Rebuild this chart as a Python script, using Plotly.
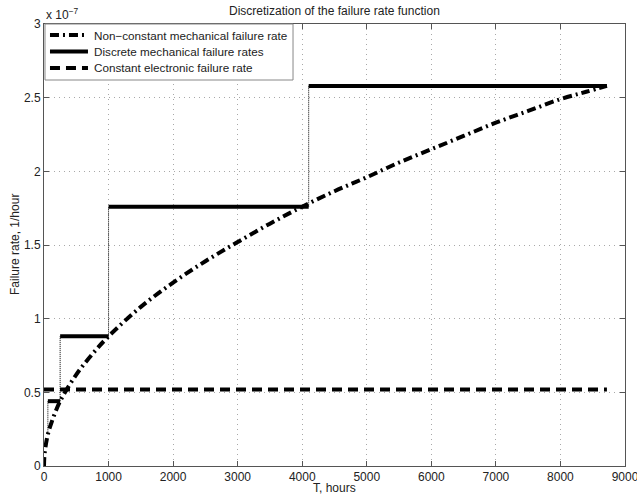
import plotly.graph_objects as go

SCALE = 1e-7

# Non-constant (time dependent) mechanical failure rate, in units of 1e-7 per hour
curve_t = [0, 5, 20, 60, 120, 250, 500, 750, 1000, 1500, 2000, 2500, 3000, 3500,
           4000, 4500, 5000, 5500, 6000, 6500, 7000, 7500, 8000, 8400, 8720]
curve_rate = [0.0, 0.06, 0.12, 0.215, 0.30, 0.44, 0.62, 0.76, 0.88, 1.08, 1.245,
              1.39, 1.52, 1.645, 1.76, 1.865, 1.96, 2.06, 2.15, 2.24, 2.33,
              2.41, 2.49, 2.54, 2.58]

# Discrete mechanical failure rates over each interval
step_start = [60, 250, 1000, 4100]
step_end = [250, 1000, 4100, 8720]
step_rate = [0.44, 0.88, 1.76, 2.58]
step_join_low = [0.215, 0.44, 0.88, 1.76]

# Constant electronic failure rate
const_rate = 0.52
t_max = 8720

x_ticks = list(range(0, 9001, 1000))
y_ticks = [0, 0.5, 1, 1.5, 2, 2.5, 3]

legend_labels = ["Non\u2212constant mechanical failure rate",
                 "Discrete mechanical failure rates",
                 "Constant electronic failure rate"]

DASHDOT = "9px,4px,2px,4px"
DASHED = "10px,6px"

fig = go.Figure()

fig.add_trace(go.Scatter(
    x=curve_t, y=[v * SCALE for v in curve_rate], mode="lines",
    name=legend_labels[0],
    line=dict(color="black", width=4, dash=DASHDOT, shape="spline"),
))

sx, sy = [], []
for a, b, r in zip(step_start, step_end, step_rate):
    sx += [a, b, None]
    sy += [r * SCALE, r * SCALE, None]
fig.add_trace(go.Scatter(
    x=sx, y=sy, mode="lines", name=legend_labels[1],
    line=dict(color="black", width=4),
))

fig.add_trace(go.Scatter(
    x=[0, t_max], y=[const_rate * SCALE] * 2, mode="lines",
    name=legend_labels[2],
    line=dict(color="black", width=4, dash=DASHED),
))

# thin dotted connectors between consecutive steps
vx, vy = [], []
for a, lo, r in zip(step_start, step_join_low, step_rate):
    vx += [a, a, None]
    vy += [lo * SCALE, r * SCALE, None]
fig.add_trace(go.Scatter(
    x=vx, y=vy, mode="lines", showlegend=False, hoverinfo="skip",
    line=dict(color="black", width=1, dash="1px,1px"),
))

axis_common = dict(
    showline=True, linecolor="#555555", linewidth=1, mirror="ticks",
    ticks="inside", ticklen=5, tickcolor="#555555",
    showgrid=True, gridcolor="#a8a8a8", griddash="1px,4px", gridwidth=1,
    zeroline=False, tickfont=dict(size=12, color="#222222"),
    automargin=False, ticklabeloverflow="allow",
)

# legend drawn as a framed box in the upper-left corner of the axes
shapes = [dict(type="rect", xref="paper", yref="paper",
               x0=0.0017, x1=0.4286, y0=0.8733, y1=1.0,
               fillcolor="white", line=dict(color="#888888", width=1),
               layer="above")]
annotations = []
row_y = [0.9751, 0.9378, 0.9005]
row_dash = [DASHDOT, "solid", DASHED]
for label, yy, dash in zip(legend_labels, row_y, row_dash):
    shapes.append(dict(type="line", xref="paper", yref="paper",
                       x0=0.0103, x1=0.0757, y0=yy, y1=yy,
                       line=dict(color="black", width=4, dash=dash),
                       layer="above"))
    annotations.append(dict(text=label, xref="paper", yref="paper",
                            x=0.0826, y=yy, xanchor="left", yanchor="middle",
                            showarrow=False, font=dict(size=11.7)))

annotations += [
    dict(text="x 10<sup>\u22127</sup>", xref="paper", yref="paper",
         x=0.0, y=1.0, xanchor="left", yanchor="bottom",
         showarrow=False, font=dict(size=12)),
    dict(text="T, hours", xref="paper", yref="paper",
         x=0.5, y=-0.0498, xanchor="center", yanchor="middle",
         showarrow=False, font=dict(size=12)),
    dict(text="Failure rate, 1/hour", xref="paper", yref="paper",
         x=-0.0499, y=0.5, xanchor="center", yanchor="middle", textangle=-90,
         showarrow=False, font=dict(size=12)),
]

fig.update_layout(
    width=637, height=496,
    margin=dict(l=44, r=12, t=24, b=30),
    paper_bgcolor="white", plot_bgcolor="white",
    font=dict(family="Liberation Sans, Arial, sans-serif", size=12, color="#222222"),
    title=dict(text="Discretization of the failure rate function",
               x=0.525, xanchor="center", y=0.987, yanchor="top",
               font=dict(size=12)),
    xaxis=dict(range=[0, 9000], tickvals=x_ticks, **axis_common),
    yaxis=dict(range=[0, 3 * SCALE], tickvals=[v * SCALE for v in y_ticks],
               ticktext=[f"{v:g}" for v in y_ticks], **axis_common),
    showlegend=False,
    shapes=shapes,
    annotations=annotations,
)

fig.write_html("out.html")
